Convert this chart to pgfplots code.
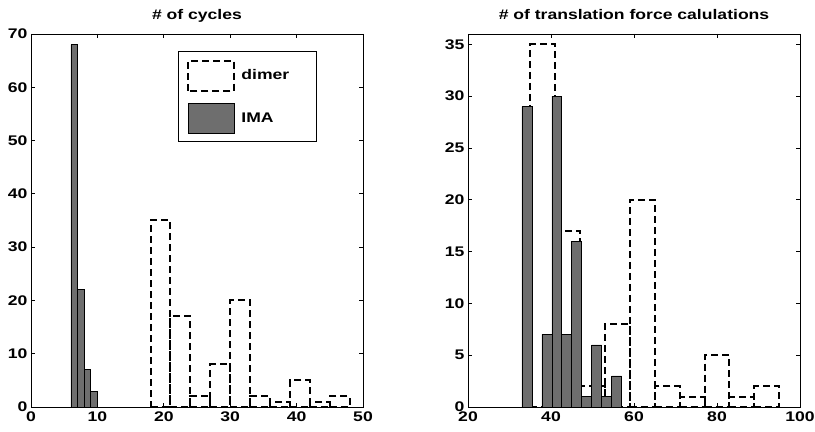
\documentclass[border=0pt]{standalone}
\usepackage{pgfplots}
\pgfplotsset{compat=1.18}
\usepackage{fontspec}
\setmainfont{Liberation Sans}[FakeStretch=1.26]
\definecolor{imagray}{HTML}{6E6E6E}
\pgfplotsset{
  histax/.style={
    scale only axis, width=332bp, height=373bp,
    axis line style={line width=0.9bp},
    tick align=inside, major tick length=4bp,
    every tick/.style={black, line width=0.8bp},
    tick label style={font=\fontsize{14}{14}\selectfont\bfseries},
    yticklabel style={inner xsep=3.5bp},
    xticklabel style={yshift=-1.5bp},
    /pgf/number format/assume math mode=true,
    title style={font=\fontsize{14}{14}\selectfont\bfseries, at={(0.5,1)}, anchor=base, yshift=8.7bp},
    ymin=0,
    legend image code/.code={\draw[##1] (0bp,-15bp) rectangle (46bp,15bp);},
  },
  dimer/.style={ybar interval, draw=black, fill=none, line width=2bp, dash pattern=on 7bp off 4bp},
  ima/.style={ybar interval, draw=black, fill=imagray, line width=0.6bp, solid},
}
\begin{document}
\begin{tikzpicture}
\useasboundingbox (0,0) rectangle (815bp,432bp);
\begin{axis}[histax, at={(31bp,25bp)}, anchor=south west,
  title={\# of cycles},
  xmin=0, xmax=50, ymax=70,
  xtick={0,10,20,30,40,50}, ytick={0,10,20,30,40,50,60,70},
  legend style={at={(0.443,0.955)}, anchor=north west, draw=black, line width=0.8bp, solid,
    fill=white, inner xsep=9bp, inner ysep=8.5bp, row sep=11bp, column sep=6bp,
    nodes={inner sep=0pt},
    font=\fontsize{14}{14}\selectfont\bfseries, cells={anchor=west}},
  ]
\addplot[dimer] coordinates {(18,35)(21,17)(24,2)(27,8)(30,20)(33,2)(36,1)(39,5)(42,1)(45,2)(48,0)};
\addplot[ima] coordinates {(6,68)(7,22)(8,7)(9,3)(10,0)};
\legend{\makebox[66bp][l]{dimer},\makebox[66bp][l]{IMA}}
\end{axis}
\begin{axis}[histax, at={(468bp,25bp)}, anchor=south west,
  title={\# of translation force calulations},
  xmin=20, xmax=100, ymax=36,
  xtick={20,40,60,80,100}, ytick={0,5,10,15,20,25,30,35},
  ]
\addplot[dimer] coordinates {(35,35)(41,17)(47,2)(53,8)(59,20)(65,2)(71,1)(77,5)(83,1)(89,2)(95,0)};
\addplot[ima] coordinates {(33,29)(35.4,0)(37.8,7)(40.2,30)(42.6,7)(45,16)(47.4,1)(49.8,6)(52.2,1)(54.6,3)(57,0)};
\end{axis}
\end{tikzpicture}
\end{document}
